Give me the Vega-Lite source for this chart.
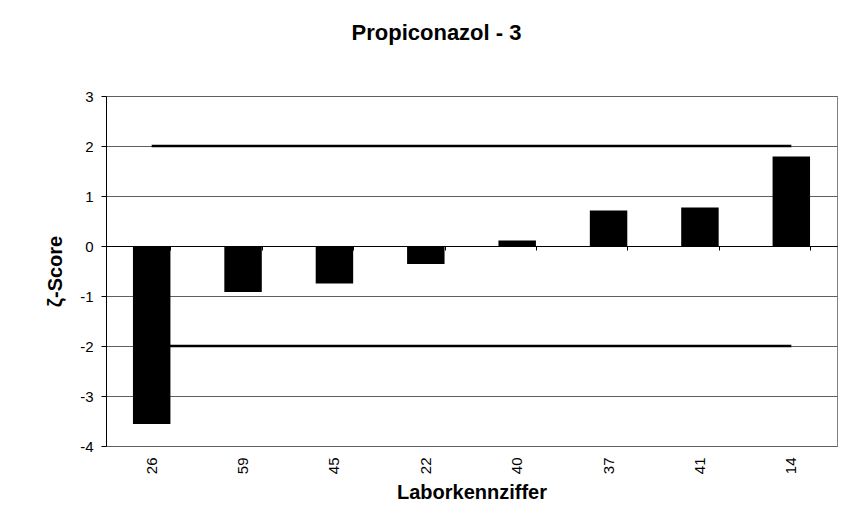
{
  "$schema": "https://vega.github.io/schema/vega-lite/v6.json",
  "autosize": "none",
  "width": 731,
  "height": 350,
  "padding": {"left": 106, "top": 96, "right": 15, "bottom": 79},
  "background": "white",
  "title": {"text": "Propiconazol - 3", "font": "Liberation Sans", "fontSize": 22, "fontWeight": "bold", "color": "black", "anchor": "middle", "frame": "group", "dx": -35, "dy": 25, "offset": 52, "baseline": "alphabetic"},
  "config": {"view": {"stroke": "#808080", "strokeWidth": 1}, "font": "Liberation Sans"},
  "layer": [
    {
      "data": {"values": [
        {"Labor": "26", "zeta": -3.56},
        {"Labor": "59", "zeta": -0.92},
        {"Labor": "45", "zeta": -0.75},
        {"Labor": "22", "zeta": -0.36},
        {"Labor": "40", "zeta": 0.11},
        {"Labor": "37", "zeta": 0.71},
        {"Labor": "41", "zeta": 0.77},
        {"Labor": "14", "zeta": 1.79}
      ]},
      "mark": {"type": "bar", "color": "black"},
      "encoding": {
        "x": {"field": "Labor", "type": "nominal",
          "scale": {"domain": ["26","59","45","22","40","37","41","14"], "paddingInner": 0.59, "paddingOuter": 0.295},
          "axis": {"orient": "bottom", "labelAngle": -90, "labelFontSize": 15, "labelColor": "black", "labelPadding": 11, "ticks": false, "domain": false, "grid": false,
            "title": "Laborkennziffer", "titleFontSize": 20, "titleFontWeight": "bold", "titleColor": "black", "titlePadding": 9}},
        "y": {"field": "zeta", "type": "quantitative",
          "scale": {"domain": [-4, 3], "nice": false, "zero": false},
          "axis": {"values": [-4,-3,-2,-1,0,1,2,3], "labelExpr": "'' + datum.value", "grid": true, "gridColor": "#606060", "gridOpacity": 1, "domainColor": "black", "tickColor": "black", "tickSize": 5,
            "labelFontSize": 15, "labelColor": "black", "labelPadding": 8,
            "title": "ζ-Score", "titleFontSize": 20, "titleFontWeight": "bold", "titleColor": "black", "titlePadding": 14}}
      }
    },
    {
      "data": {"values": [
        {"Labor": "26", "limit": 2, "g": "upper"},
        {"Labor": "14", "limit": 2, "g": "upper"},
        {"Labor": "26", "limit": -2, "g": "lower"},
        {"Labor": "14", "limit": -2, "g": "lower"}
      ]},
      "mark": {"type": "line", "color": "black", "strokeWidth": 2.5},
      "encoding": {
        "x": {"field": "Labor", "type": "nominal",
          "axis": {"orient": "bottom", "offset": -200, "labels": false, "title": null, "grid": false, "ticks": true, "tickBand": "extent", "tickSize": 4, "tickColor": "black", "domainColor": "black"}},
        "y": {"field": "limit", "type": "quantitative"},
        "detail": {"field": "g"}
      }
    }
  ],
  "resolve": {"axis": {"x": "independent"}}
}
